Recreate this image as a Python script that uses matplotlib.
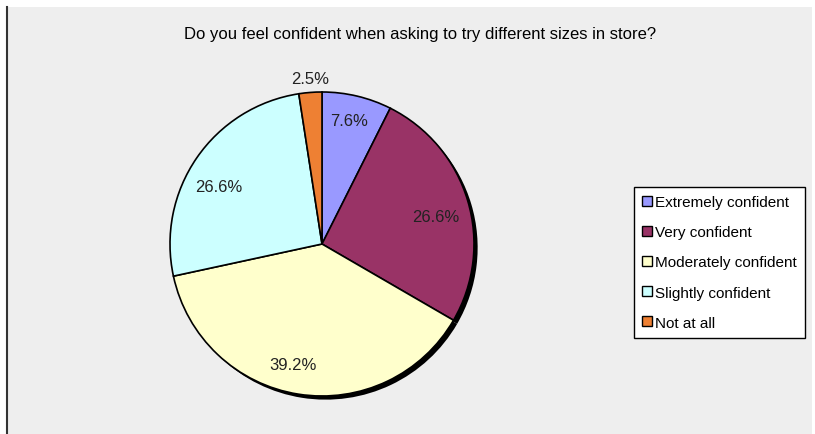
import matplotlib.pyplot as plt

plt.rcParams['font.family'] = ['Liberation Sans', 'DejaVu Sans']

categories = ['Extremely confident', 'Very confident', 'Moderately confident',
              'Slightly confident', 'Not at all']
shares = [7.6, 26.6, 39.2, 26.6, 2.5]
colors = ['#9999FF', '#993366', '#FFFFCC', '#CCFFFF', '#EE8033']

W, H = 815, 435
fig = plt.figure(figsize=(W / 100, H / 100), dpi=100)
fig.patch.set_facecolor('white')

# grey chart area with a dark rule on the left edge
bg = fig.add_axes([7 / W, 0, 805 / W, 1 - 8 / H], zorder=-1)
bg.set_facecolor('#EEEEEE')
bg.set_xticks([])
bg.set_yticks([])
for side, sp in bg.spines.items():
    sp.set_visible(side == 'left')
bg.spines['left'].set_color('#333333')
bg.spines['left'].set_linewidth(1.5)

fig.text(420 / W, 1 - 34 / H,
         'Do you feel confident when asking to try different sizes in store?',
         ha='center', va='center', fontsize=12, color='black')

# pie centre at (322, 245) px, radius ~152 px; axes padded so the shadow fits
r = 152
pad = 1.06
ax = fig.add_axes([(322 - r * pad) / W, (H - 245 - r * pad) / H,
                   2 * r * pad / W, 2 * r * pad / H])
ax.set_aspect('equal')
ax.patch.set_visible(False)

# drop shadow
shadow, _ = ax.pie(shares, startangle=90, counterclock=False, radius=1,
                   colors=['black'] * len(shares),
                   wedgeprops=dict(linewidth=0))
for w in shadow:
    w.set_center((0.024, -0.024))
    w.set_zorder(0)

wedges, _ = ax.pie(shares, startangle=90, counterclock=False, radius=1,
                   colors=colors,
                   wedgeprops=dict(edgecolor='black', linewidth=1.2))

# percentage labels
label_pos = [(0.18, 0.81), (0.75, 0.18), (-0.19, -0.79), (-0.68, 0.38), (-0.08, 1.09)]
for val, (x, y) in zip(shares, label_pos):
    ax.text(x, y, f'{val:.1f}%', ha='center', va='center', fontsize=12, color='#222222')

ax.set_xlim(-pad, pad)
ax.set_ylim(-pad, pad)
ax.axis('off')

leg = fig.legend(wedges, categories, loc='upper left',
                 bbox_to_anchor=(634 / W, 1 - 188 / H),
                 frameon=True, fancybox=False, edgecolor='black', framealpha=1,
                 fontsize=11, handlelength=0.6, handleheight=0.6,
                 handletextpad=0.2, labelspacing=1.05, borderpad=0.55,
                 borderaxespad=0)
leg.get_frame().set_linewidth(1.0)
leg.get_frame().set_facecolor('white')
for h in leg.legend_handles:
    h.set_linewidth(1.0)

fig.savefig('out.png', dpi=100)
